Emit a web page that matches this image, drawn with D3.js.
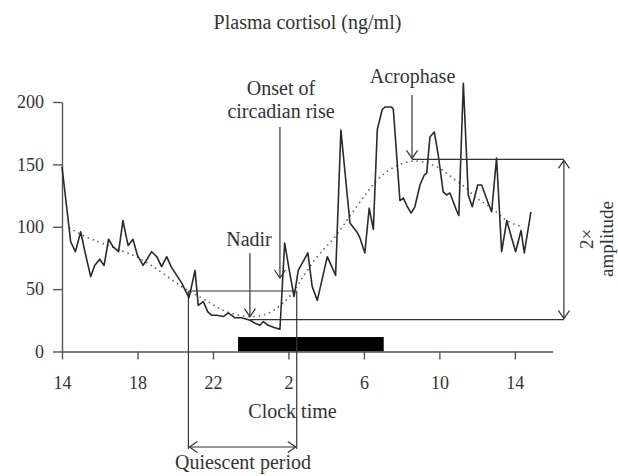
<!DOCTYPE html>
<html>
<head>
<meta charset="utf-8">
<script src="https://cdn.jsdelivr.net/npm/d3@7"></script>
<style>
  html, body { margin: 0; padding: 0; background: #fff; }
  svg text { font-family: "Liberation Serif", "DejaVu Serif", serif; fill: #333; }
</style>
</head>
<body>
<svg id="chart" width="618" height="476"></svg>
<script>
// ---- data (hours elapsed since 14:00) ----
const sampleHours = [0.00,0.46,0.71,0.99,1.20,1.52,1.73,2.00,2.23,2.47,2.70,3.00,3.23,3.50,3.76,4.00,4.30,4.75,5.02,5.28,5.55,5.78,6.08,6.34,6.73,7.05,7.22,7.49,7.72,7.93,8.20,8.55,8.81,9.17,9.52,9.96,10.23,10.49,10.67,10.93,11.20,11.55,11.80,12.08,12.30,12.52,13.03,13.26,13.53,14.06,14.50,14.78,15.26,15.62,15.79,16.05,16.28,16.50,16.71,16.97,17.12,17.47,17.56,17.91,18.09,18.27,18.50,18.70,18.97,19.20,19.33,19.50,19.73,19.94,20.20,20.38,20.56,20.91,21.03,21.27,21.53,21.74,22.03,22.24,22.56,22.77,23.03,23.30,23.57,23.83,24.04,24.33,24.50,24.85];
const cortisol =    [148,88,80,96,81,60,69,74,69,90,84,80,105,85,90,77,69,80,76,68,76,68,61,55,43,65,37,40,32,29,29,28,31,27,27,25,22.6,21,24,21,19.4,17.8,87,62,44,65,79,52,41,76,61,177.5,103,96,91,79,115,98,178,194,196,196,194,121,123,117,111,116,133.5,141.5,143,172,176,157.5,128,125.5,127,113,109,215,125.5,116,133.5,133.5,120,112,155,80,105,91,80,97,79,112];

// fitted (dotted) rhythm curve
const fitHours  = [0.4,1.2,2.1,3.3,4.0,4.75,5.55,6.5,7.3,7.9,8.4,8.9,9.6,10.15,10.75,11.3,11.65,12.2,12.6,13.0,13.5,14.0,14.5,15.0,15.6,16.15,16.65,17.3,18.0,18.7,19.4,20.1,20.8,21.4,21.9,22.4,22.95,23.5,24.1,24.45];
const fitValues = [99,92,87,80,76,69,60.5,50,44,38.5,34,30.6,28.5,27.4,29.3,33.3,38,46,56,65,76,84,92,103,116,127,137.5,145.5,151,153.5,151,147,137.5,132,123,119,113,105,101,100];

const xTickHours  = [0,4,8,12,16,20,24];
const xTickLabels = ["14","18","22","2","6","10","14"];
const yTicks      = [0,50,100,150,200];

// sleep period bar
const sleepHours = [9.33, 17.05];
const sleepBarValue = 11.6;

// annotations
const quiescentHours = [6.7, 12.44];
const quiescentLevel = 48.5;
const nadirHour = 9.96, nadirLevel = 25.5;
const acrophaseHour = 18.55, acrophaseLevel = 154;
const onsetHour = 11.55;
const amplitudeHour = 26.6;

// ---- drawing ----
const svg = d3.select("#chart");
const x = d3.scaleLinear().domain([0, 26]).range([62, 552.6]);
const y = d3.scaleLinear().domain([0, 200]).range([351.5, 102]);

const ink = "#333";
const axisInk = "#555";

// sleep bar
svg.append("rect")
  .attr("x", x(sleepHours[0]))
  .attr("y", y(sleepBarValue))
  .attr("width", x(sleepHours[1]) - x(sleepHours[0]))
  .attr("height", y(0) - y(sleepBarValue))
  .attr("fill", "#000");

// axes
const yAxis = svg.append("g")
  .attr("transform", `translate(${x(0)},0)`)
  .call(d3.axisLeft(y).tickValues(yTicks).tickSize(9).tickPadding(9).tickSizeOuter(0));
const xAxis = svg.append("g")
  .attr("transform", `translate(0,${y(0)})`)
  .call(d3.axisBottom(x).tickValues(xTickHours).tickFormat((d, i) => xTickLabels[i]).tickSize(8).tickPadding(17).tickSizeOuter(0));
[yAxis, xAxis].forEach(g => {
  g.select(".domain").attr("stroke", axisInk).attr("stroke-width", 1.4);
  g.selectAll(".tick line").attr("stroke", axisInk).attr("stroke-width", 1.4);
  g.selectAll(".tick text").attr("font-size", 18).attr("fill", "#333")
    .style("font-family", '"Liberation Serif", serif');
});

// fitted dotted curve
svg.append("path")
  .datum(fitHours.map((h, i) => [h, fitValues[i]]))
  .attr("d", d3.line().x(d => x(d[0])).y(d => y(d[1])).curve(d3.curveBasis))
  .attr("fill", "none")
  .attr("stroke", "#666")
  .attr("stroke-width", 1.7)
  .attr("stroke-linecap", "round")
  .attr("stroke-dasharray", "0.1,5.2");

// data line
svg.append("path")
  .datum(sampleHours.map((h, i) => [h, cortisol[i]]))
  .attr("d", d3.line().x(d => x(d[0])).y(d => y(d[1])))
  .attr("fill", "none")
  .attr("stroke", "#2a2a2a")
  .attr("stroke-width", 1.6)
  .attr("stroke-linejoin", "round");

// helpers
const ann = svg.append("g").attr("stroke", ink).attr("stroke-width", 1.2).attr("fill", "none");
function line(x1, y1, x2, y2) {
  ann.append("line").attr("x1", x1).attr("y1", y1).attr("x2", x2).attr("y2", y2);
}
function head(px, py, dir) { // open chevron, tip at (px,py)
  const w = 5.5, l = 8;
  let pts;
  if (dir === "down") pts = [[px - w, py - l], [px, py], [px + w, py - l]];
  if (dir === "up") pts = [[px - w, py + l], [px, py], [px + w, py + l]];
  if (dir === "left") pts = [[px + l, py - w], [px, py], [px + l, py + w]];
  if (dir === "right") pts = [[px - l, py - w], [px, py], [px - l, py + w]];
  ann.append("path").attr("d", d3.line()(pts));
}
function label(txt, cx, by, size) {
  svg.append("text").attr("x", cx).attr("y", by).attr("text-anchor", "middle")
    .attr("font-size", size || 20).text(txt);
}

// quiescent period box
const qArrowY = 447;
line(x(quiescentHours[0]), y(quiescentLevel), x(quiescentHours[1]), y(quiescentLevel));
line(x(quiescentHours[0]), y(quiescentLevel), x(quiescentHours[0]), qArrowY + 2);
line(x(quiescentHours[1]), y(quiescentLevel), x(quiescentHours[1]), qArrowY + 2);
line(x(quiescentHours[0]) + 1, qArrowY, x(quiescentHours[1]) - 1, qArrowY);
head(x(quiescentHours[0]) + 1, qArrowY, "left");
head(x(quiescentHours[1]) - 1, qArrowY, "right");

// amplitude box
line(x(nadirHour), y(nadirLevel), x(amplitudeHour), y(nadirLevel));
line(x(acrophaseHour), y(acrophaseLevel), x(amplitudeHour), y(acrophaseLevel));
line(x(amplitudeHour), y(acrophaseLevel) + 1, x(amplitudeHour), y(nadirLevel) - 1);
head(x(amplitudeHour), y(acrophaseLevel) + 1, "up");
head(x(amplitudeHour), y(nadirLevel) - 1, "down");

// nadir arrow
line(x(nadirHour), 253, x(nadirHour), y(28));
head(x(nadirHour), y(28), "down");
// onset arrow
line(x(onsetHour), 127, x(onsetHour), 278);
head(x(onsetHour), 278, "down");
// acrophase arrow
line(x(acrophaseHour), 95, x(acrophaseHour), y(acrophaseLevel) - 1);
head(x(acrophaseHour), y(acrophaseLevel) - 1, "down");

// texts
label("Plasma cortisol (ng/ml)", 307.5, 29, 20);
label("Onset of", 281, 95, 20);
label("circadian rise", 281, 118, 20);
label("Acrophase", 412.5, 83, 20);
label("Nadir", 249, 246, 20);
label("Clock time", 292.5, 418, 20);
label("Quiescent period", 243, 469, 20);

const rot = svg.append("g").attr("transform", "translate(0,239)");
rot.append("text").attr("transform", "translate(593,0) rotate(-90)")
  .attr("text-anchor", "middle").attr("font-size", 19).text("2×");
rot.append("text").attr("transform", "translate(613,0) rotate(-90)")
  .attr("text-anchor", "middle").attr("font-size", 19).text("amplitude");
</script>
</body>
</html>
